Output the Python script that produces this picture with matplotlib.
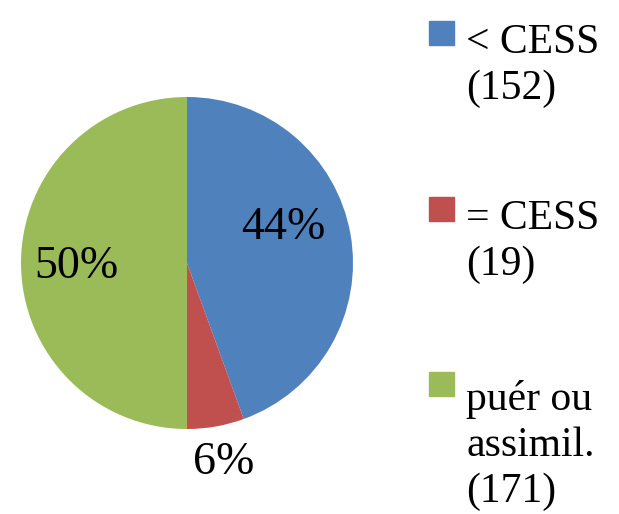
import matplotlib
matplotlib.use('Agg')
import matplotlib.pyplot as plt
from matplotlib.patches import Rectangle

# données
categories = ['< CESS\n(152)', '= CESS\n(19)', 'puér ou\nassimil.\n(171)']
valeurs = [152, 19, 171]
couleurs = ['#4F81BD', '#C0504D', '#9BBB59']

plt.rcParams['font.family'] = ['Liberation Serif', 'DejaVu Serif']

fig = plt.figure(figsize=(6.19, 5.14), dpi=100)
W, H = 619, 514

# camembert : centre (187, 263) px, rayon 166 px
cx, cy, R = 187, 263, 166
ax = fig.add_axes([(cx - R) / W, (H - cy - R) / H, 2 * R / W, 2 * R / H])
wedges, texts, autotexts = ax.pie(valeurs, colors=couleurs, startangle=90,
                                  counterclock=False, autopct='%1.0f%%',
                                  textprops={'fontsize': 33})
ax.set_xlim(-1, 1)
ax.set_ylim(-1, 1)
ax.set_aspect('auto')

# positions des étiquettes
pos = [(0.578, 0.215), (0.223, -1.205), (-0.669, -0.025)]
for t, p in zip(autotexts, pos):
    t.set_position(p)
    t.set_va('center')
    t.set_ha('center')

# légende dessinée à la main
y_base = [47, 223, 398]   # ligne de base de la première ligne (px)
interligne = 52           # px
fs = 30
for lab, col, yb in zip(categories, couleurs, y_base):
    fig.patches.append(Rectangle((429 / W, 1 - (yb - 2) / H), 25 / W, 24 / H,
                                 transform=fig.transFigure, color=col))
    n = lab.count('\n')
    fig.text(466 / W, 1 - (yb + n * interligne) / H, lab, fontsize=fs,
             va='baseline', ha='left',
             linespacing=interligne / (fs * 100 / 72))

fig.savefig('out.png', dpi=100)
